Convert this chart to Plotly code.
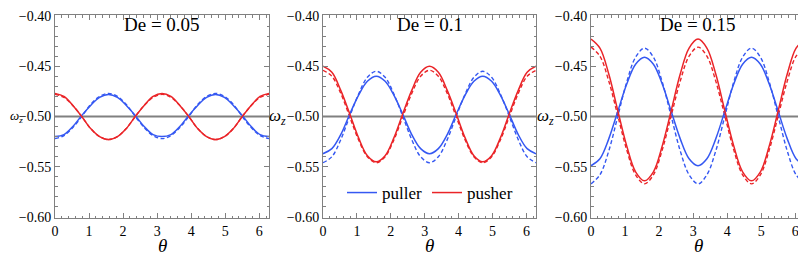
import plotly.graph_objects as go

theta = [0.000, 0.262, 0.524, 0.785, 1.047, 1.309, 1.571, 1.833, 2.094, 2.356, 2.618, 2.880, 3.142,
         3.403, 3.665, 3.927, 4.189, 4.451, 4.712, 4.974, 5.236, 5.498, 5.760, 6.021, 6.283]

# De = 0.05
p1_puller_solid = [-0.520, -0.518, -0.510, -0.499, -0.489, -0.481, -0.478, -0.481, -0.489, -0.499, -0.510, -0.518, -0.520,
                   -0.518, -0.510, -0.499, -0.489, -0.481, -0.478, -0.481, -0.489, -0.499, -0.510, -0.518, -0.520]
p1_puller_dash = [-0.522, -0.519, -0.511, -0.500, -0.488, -0.480, -0.477, -0.480, -0.488, -0.500, -0.511, -0.519, -0.522,
                  -0.519, -0.511, -0.500, -0.488, -0.480, -0.477, -0.480, -0.488, -0.500, -0.511, -0.519, -0.522]
p1_pusher_solid = [-0.477, -0.480, -0.489, -0.500, -0.512, -0.520, -0.523, -0.520, -0.512, -0.500, -0.489, -0.480, -0.477,
                   -0.480, -0.489, -0.500, -0.512, -0.520, -0.523, -0.520, -0.512, -0.500, -0.489, -0.480, -0.477]
p1_pusher_dash = [-0.478, -0.481, -0.489, -0.500, -0.512, -0.520, -0.523, -0.520, -0.512, -0.500, -0.489, -0.481, -0.478,
                  -0.481, -0.489, -0.500, -0.512, -0.520, -0.523, -0.520, -0.512, -0.500, -0.489, -0.481, -0.478]

# De = 0.1
p2_puller_solid = [-0.537, -0.532, -0.518, -0.498, -0.479, -0.465, -0.460, -0.465, -0.479, -0.498, -0.518, -0.532, -0.537,
                   -0.532, -0.518, -0.498, -0.479, -0.465, -0.460, -0.465, -0.479, -0.498, -0.518, -0.532, -0.537]
p2_puller_dash = [-0.546, -0.540, -0.523, -0.500, -0.478, -0.461, -0.455, -0.461, -0.478, -0.500, -0.523, -0.540, -0.546,
                  -0.540, -0.523, -0.500, -0.478, -0.461, -0.455, -0.461, -0.478, -0.500, -0.523, -0.540, -0.546]
p2_pusher_solid = [-0.450, -0.456, -0.474, -0.497, -0.521, -0.539, -0.545, -0.539, -0.521, -0.497, -0.474, -0.456, -0.450,
                   -0.456, -0.474, -0.497, -0.521, -0.539, -0.545, -0.539, -0.521, -0.497, -0.474, -0.456, -0.450]
p2_pusher_dash = [-0.454, -0.460, -0.477, -0.500, -0.523, -0.540, -0.546, -0.540, -0.523, -0.500, -0.477, -0.460, -0.454,
                  -0.460, -0.477, -0.500, -0.523, -0.540, -0.546, -0.540, -0.523, -0.500, -0.477, -0.460, -0.454]

# De = 0.15
p3_puller_solid = [-0.549, -0.542, -0.522, -0.495, -0.468, -0.448, -0.441, -0.448, -0.468, -0.495, -0.522, -0.542, -0.549,
                   -0.542, -0.522, -0.495, -0.468, -0.448, -0.441, -0.448, -0.468, -0.495, -0.522, -0.542, -0.549]
p3_puller_dash = [-0.567, -0.558, -0.534, -0.500, -0.466, -0.441, -0.432, -0.441, -0.466, -0.500, -0.534, -0.558, -0.567,
                  -0.558, -0.534, -0.500, -0.466, -0.441, -0.432, -0.441, -0.466, -0.500, -0.534, -0.558, -0.567]
p3_pusher_solid = [-0.423, -0.432, -0.458, -0.494, -0.529, -0.555, -0.564, -0.555, -0.529, -0.494, -0.458, -0.432, -0.423,
                   -0.432, -0.458, -0.494, -0.529, -0.555, -0.564, -0.555, -0.529, -0.494, -0.458, -0.432, -0.423]
p3_pusher_dash = [-0.431, -0.440, -0.465, -0.499, -0.533, -0.558, -0.567, -0.558, -0.533, -0.499, -0.465, -0.440, -0.431,
                  -0.440, -0.465, -0.499, -0.533, -0.558, -0.567, -0.558, -0.533, -0.499, -0.465, -0.440, -0.431]

panel_titles = ["De = 0.05", "De = 0.1", "De = 0.15"]
x_ticks = [0, 1, 2, 3, 4, 5, 6]
y_ticks = [-0.60, -0.55, -0.50, -0.45, -0.40]
y_tick_text = ["\u22120.60", "\u22120.55", "\u22120.50", "\u22120.45", "\u22120.40"]
reference_level = -0.50

panels = [
    (p1_puller_solid, p1_puller_dash, p1_pusher_solid, p1_pusher_dash),
    (p2_puller_solid, p2_puller_dash, p2_pusher_solid, p2_pusher_dash),
    (p3_puller_solid, p3_puller_dash, p3_pusher_solid, p3_pusher_dash),
]

BLUE = "#3558f2"
RED = "#ea2428"
GRAY = "#808080"
FONT = "Liberation Serif"

# the page body adds an 8 px offset; layout is given in screen pixels and shifted back
OFF = 8
W, H = 806 - OFF, 257 - OFF
PLOT_TOP_PX, PLOT_BOTTOM_PX = 15, 218
PT, PB = PLOT_TOP_PX - OFF, PLOT_BOTTOM_PX - OFF
px_left = [55, 323, 591]
px_right = [269, 536, 805]


def fx(p):
    return (p - OFF) / W


def fy(p):
    return 1 - ((p - OFF) - PT) / (PB - PT)


x_domains = [(fx(a), min(fx(b), 1.0)) for a, b in zip(px_left, px_right)]

fig = go.Figure()

for i, (pu_s, pu_d, ps_s, ps_d) in enumerate(panels):
    n = "" if i == 0 else str(i + 1)
    xa, ya = "x" + n, "y" + n
    show = (i == 1)
    fig.add_trace(go.Scatter(x=theta, y=pu_d, mode="lines", xaxis=xa, yaxis=ya,
                             line=dict(color=BLUE, width=1.4, dash="4px,2.5px", shape="spline"),
                             showlegend=False, hoverinfo="skip"))
    fig.add_trace(go.Scatter(x=theta, y=ps_d, mode="lines", xaxis=xa, yaxis=ya,
                             line=dict(color=RED, width=1.4, dash="4px,2.5px", shape="spline"),
                             showlegend=False, hoverinfo="skip"))
    fig.add_trace(go.Scatter(x=theta, y=pu_s, mode="lines", xaxis=xa, yaxis=ya, name="puller",
                             line=dict(color=BLUE, width=1.5, shape="spline"),
                             showlegend=show, hoverinfo="skip"))
    fig.add_trace(go.Scatter(x=theta, y=ps_s, mode="lines", xaxis=xa, yaxis=ya, name="pusher",
                             line=dict(color=RED, width=1.5, shape="spline"),
                             showlegend=show, hoverinfo="skip"))
    fig.add_shape(type="line", xref=xa + " domain", yref=ya, x0=0, x1=1,
                  y0=reference_level, y1=reference_level,
                  line=dict(color=GRAY, width=2), layer="below")

    common = dict(showgrid=False, zeroline=False, showline=True, linecolor=GRAY, linewidth=1,
                  mirror="ticks", ticks="inside", tickcolor=GRAY, ticklen=5, tickwidth=1,
                  automargin=False, ticklabeloverflow="allow",
                  tickfont=dict(family=FONT, size=14, color="black"))
    fig.layout["xaxis" + n] = dict(
        common, domain=x_domains[i], range=[0, 6.2832], anchor=ya,
        tickvals=x_ticks, ticktext=[str(v) for v in x_ticks],
        minor=dict(ticks="inside", dtick=0.2, tick0=0, ticklen=2.5, tickcolor=GRAY),
    )
    fig.layout["yaxis" + n] = dict(
        common, domain=[0, 1], range=[-0.601, -0.399], anchor=xa,
        tickvals=y_ticks, ticktext=y_tick_text,
        minor=dict(ticks="inside", dtick=0.01, tick0=-0.6, ticklen=2.5, tickcolor=GRAY),
    )

for i in range(3):
    n = "" if i == 0 else str(i + 1)
    xa, ya = "x" + n, "y" + n
    fig.add_annotation(xref=xa + " domain", yref="paper", x=0.5, y=fy(24),
                       text=panel_titles[i], showarrow=False, xanchor="center", yanchor="middle",
                       font=dict(family=FONT, size=19, color="black"))
    if i == 0:
        fig.add_annotation(xref="paper", yref=ya, x=0, y=reference_level,
                           text="<i>ω<sub>z</sub></i>", showarrow=False, xanchor="left", yanchor="middle",
                           font=dict(family=FONT, size=13, color="black"))
    else:
        fig.add_annotation(xref="paper", yref=ya, x=fx(px_left[i] - 46), y=reference_level,
                           text="<i>ω<sub>z</sub></i>", showarrow=False, xanchor="center", yanchor="middle",
                           font=dict(family=FONT, size=17, color="black"))
    fig.add_annotation(xref=xa + " domain", yref="paper", x=0.5, y=fy(245),
                       text="<i>θ</i>", showarrow=False, xanchor="center", yanchor="middle",
                       font=dict(family=FONT, size=19, color="black"))

fig.update_layout(
    width=W, height=H,
    margin=dict(l=0, r=0, t=PT, b=H - PB, autoexpand=False),
    plot_bgcolor="white", paper_bgcolor="white",
    showlegend=True,
    legend=dict(orientation="h", xref="paper", yref="paper",
                x=fx(430), y=fy(193), xanchor="center", yanchor="middle",
                font=dict(family=FONT, size=17, color="black"),
                bgcolor="rgba(0,0,0,0)", itemwidth=30, tracegroupgap=0),
)

fig.write_html("out.html")
